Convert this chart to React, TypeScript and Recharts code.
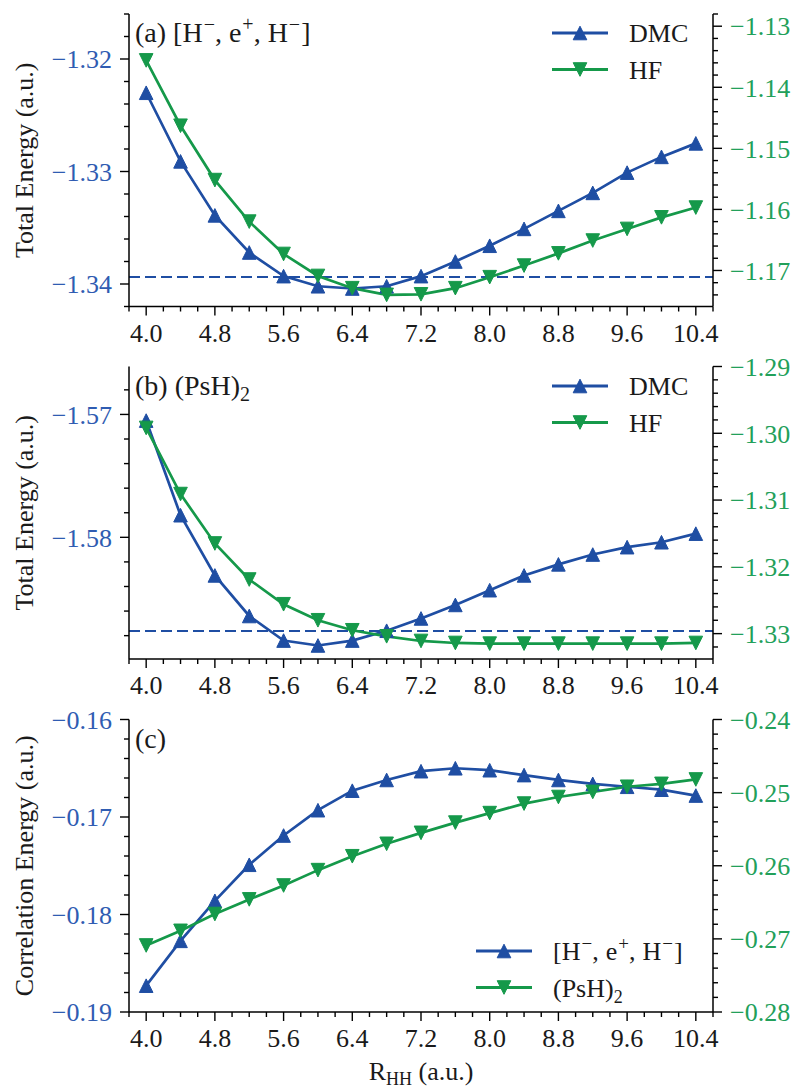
import React from 'react';
import { LineChart, Line, XAxis, YAxis, ReferenceLine, Legend } from 'recharts';

// ---------------- data ----------------
const R_HH = [4.0, 4.4, 4.8, 5.2, 5.6, 6.0, 6.4, 6.8, 7.2, 7.6, 8.0, 8.4, 8.8, 9.2, 9.6, 10.0, 10.4];

// panel (a) [H-, e+, H-]
const dmcA = [-1.3230, -1.3291, -1.3339, -1.3372, -1.3393, -1.3402, -1.3404, -1.3402, -1.3393, -1.3380, -1.3366, -1.3351, -1.3335, -1.3319, -1.3301, -1.3287, -1.3275];
const hfA = [-1.1356, -1.1463, -1.1552, -1.1620, -1.1673, -1.1709, -1.1729, -1.1740, -1.1739, -1.1729, -1.1711, -1.1692, -1.1672, -1.1651, -1.1632, -1.1613, -1.1597];
const refA = -1.33938;

// panel (b) (PsH)2
const dmcB = [-1.5705, -1.5782, -1.5831, -1.5864, -1.5884, -1.5888, -1.5884, -1.5876, -1.5866, -1.5855, -1.5843, -1.5831, -1.5822, -1.5814, -1.5808, -1.5804, -1.5797];
const hfB = [-1.2992, -1.3091, -1.3165, -1.3219, -1.3256, -1.3280, -1.3295, -1.3304, -1.3311, -1.3314, -1.3315, -1.3315, -1.3315, -1.3315, -1.3315, -1.3315, -1.3314];
const refB = -1.58763;

// panel (c) correlation energies
const corrHeH = [-0.1873, -0.1827, -0.1786, -0.1749, -0.1719, -0.1693, -0.1673, -0.1662, -0.1653, -0.1650, -0.1652, -0.1657, -0.1662, -0.1666, -0.1669, -0.1672, -0.1678];
const corrPsH2 = [-0.2709, -0.2689, -0.2666, -0.2646, -0.2627, -0.2606, -0.2587, -0.2570, -0.2555, -0.2541, -0.2528, -0.2515, -0.2506, -0.2499, -0.2492, -0.2488, -0.2482];

// ticks
const xMajor = [4.0, 4.8, 5.6, 6.4, 7.2, 8.0, 8.8, 9.6, 10.4];
const yMajorAL = [-1.34, -1.33, -1.32];
const yMajorAR = [-1.17, -1.16, -1.15, -1.14, -1.13];
const yMajorBL = [-1.59, -1.58, -1.57];
const yMajorBR = [-1.33, -1.32, -1.31, -1.30, -1.29];
const yMajorCL = [-0.19, -0.18, -0.17, -0.16];
const yMajorCR = [-0.28, -0.27, -0.26, -0.25, -0.24];

const X_DOMAIN: [number, number] = [3.8, 10.6];
const domAL: [number, number] = [-1.342, -1.316];
const domAR: [number, number] = [-1.1759, -1.128];
const domBL: [number, number] = [-1.5899, -1.5661];
const domBR: [number, number] = [-1.3338, -1.29];
const domCL: [number, number] = [-0.19, -0.16];
const domCR: [number, number] = [-0.28, -0.24];

// ---------------- style ----------------
const FONT = '"Liberation Serif", "Times New Roman", Times, serif';
const BLUE = '#1f4ea3';
const GREEN = '#15994a';
const BLUE_TXT = '#2f5cb2';
const GREEN_TXT = '#22a05a';
const DARK = '#1a1a1a';
const FS = 26;
const TITLE_FS = 28;
const TS = 9;
const TSM = 5;
const TM = 8;
const PLOT_H = 292.5;

function minorTicks(lo: number, hi: number, step: number) {
  const out: number[] = [];
  const n0 = Math.ceil(lo / step - 1e-6);
  const n1 = Math.floor(hi / step + 1e-6);
  for (let n = n0; n <= n1; n++) out.push(+(n * step).toFixed(6));
  return out;
}
const isMajor = (v: number, majors: number[]) => majors.some((m) => Math.abs(m - v) < 1e-6);
const fmtY = (v: number) => v.toFixed(2).replace('-', '\u2212');

const xTicksAll = minorTicks(X_DOMAIN[0], X_DOMAIN[1], 0.2);

function makeXTick(majors: number[]) {
  return (props: any) => {
    const { x, y, payload } = props;
    const v = payload.value;
    const major = isMajor(v, majors);
    const ay = y - TS - TM;
    return (
      <g>
        <line x1={x} x2={x} y1={ay} y2={ay + (major ? TS : TSM)} stroke="#000" strokeWidth={1.4} />
        {major && (
          <text x={x} y={ay + TS + TM} dy="0.71em" textAnchor="middle" fontSize={FS} fontFamily={FONT} fill={DARK}>
            {v.toFixed(1)}
          </text>
        )}
      </g>
    );
  };
}

function makeYTick(majors: number[], side: 'left' | 'right', color: string) {
  return (props: any) => {
    const { x, y, payload } = props;
    const v = payload.value;
    const major = isMajor(v, majors);
    const len = major ? TS : TSM;
    if (side === 'left') {
      const ax = x + TS + TM;
      return (
        <g>
          <line x1={ax - len} x2={ax} y1={y} y2={y} stroke="#000" strokeWidth={1.4} />
          {major && (
            <text x={ax - TS - TM} y={y} dy="0.355em" textAnchor="end" fontSize={FS} fontFamily={FONT} fill={color}>
              {fmtY(v)}
            </text>
          )}
        </g>
      );
    }
    const ax = x - TS - TM;
    return (
      <g>
        <line x1={ax} x2={ax + len} y1={y} y2={y} stroke="#000" strokeWidth={1.4} />
        {major && (
          <text x={ax + TS + TM} y={y} dy="0.355em" textAnchor="start" fontSize={FS} fontFamily={FONT} fill={color}>
            {fmtY(v)}
          </text>
        )}
      </g>
    );
  };
}

const triUp = (cx: number, cy: number, s = 6.8) => `M${cx},${cy - s} L${cx + s},${cy + s} L${cx - s},${cy + s} Z`;
const triDown = (cx: number, cy: number, s = 6.8) => `M${cx},${cy + s} L${cx + s},${cy - s} L${cx - s},${cy - s} Z`;

const upDot = (color: string) => (props: any) => {
  const { cx, cy, index } = props;
  if (cx == null || cy == null) return <g key={`u${index}`} />;
  return <path key={`u${index}`} d={triUp(cx, cy)} fill={color} stroke={color} strokeWidth={1} />;
};
const downDot = (color: string) => (props: any) => {
  const { cx, cy, index } = props;
  if (cx == null || cy == null) return <g key={`d${index}`} />;
  return <path key={`d${index}`} d={triDown(cx, cy)} fill={color} stroke={color} strokeWidth={1} />;
};

const yLabel = (text: string) => (props: any) => {
  const vb = props.viewBox || {};
  const cy = (vb.y ?? 14) + (vb.height ?? PLOT_H) / 2;
  const cx = 33;
  return (
    <text x={cx} y={cy} transform={`rotate(-90 ${cx} ${cy})`} textAnchor="middle" fontSize={FS} fontFamily={FONT} fill={DARK}>
      {text}
    </text>
  );
};

const xLabel = (props: any) => {
  const vb = props.viewBox || {};
  const cx = (vb.x ?? 129) + (vb.width ?? 584) / 2;
  const y = (vb.y ?? 0) + 68;
  return (
    <text x={cx} y={y} textAnchor="middle" fontSize={FS} fontFamily={FONT} fill={DARK}>
      R<tspan dy={5} fontSize={18}>HH</tspan>
      <tspan dy={-5}> (a.u.)</tspan>
    </text>
  );
};

type LegItem = { color: string; up: boolean; label: React.ReactNode };

const legendContent = (items: LegItem[]) => () => (
  <svg width={260} height={76} style={{ overflow: 'visible', display: 'block' }}>
    {items.map((it, i) => {
      const cy = 19 + i * 36.5;
      return (
        <g key={i}>
          <line x1={6} x2={62} y1={cy} y2={cy} stroke={it.color} strokeWidth={3} />
          <path d={it.up ? triUp(34, cy) : triDown(34, cy)} fill={it.color} stroke={it.color} />
          <text x={83} y={cy} dy="0.355em" fontSize={FS} fontFamily={FONT} fill={DARK}>
            {it.label}
          </text>
        </g>
      );
    })}
  </svg>
);

const heh = (sup: number, shift: number) => (
  <>
    [H<tspan dy={-shift} dx={1} fontSize={sup}>−</tspan>
    <tspan dy={shift}>,</tspan>
    <tspan dx={7}>e</tspan>
    <tspan dy={-shift} dx={1} fontSize={sup}>+</tspan>
    <tspan dy={shift}>,</tspan>
    <tspan dx={7}>H</tspan>
    <tspan dy={-shift} dx={1} fontSize={sup}>−</tspan>
    <tspan dy={shift} dx={1}>]</tspan>
  </>
);
const psh2 = (sub: number, shift: number) => (
  <>
    (PsH)<tspan dy={shift} fontSize={sub}>2</tspan>
  </>
);

type PanelProps = {
  top: number;
  height: number;
  marginTop: number;
  a: number[];
  b: number[];
  domL: [number, number];
  domR: [number, number];
  majL: number[];
  majR: number[];
  leftLabel: string;
  refY?: number;
  legendItems: LegItem[];
  legendLeft: number;
  legendTop: number;
  showXLabel?: boolean;
  title: React.ReactNode;
};

function Panel(p: PanelProps) {
  const data = R_HH.map((x, i) => ({ x, a: p.a[i], b: p.b[i] }));
  const xAxisH = p.height - p.marginTop - PLOT_H;
  const yTicksL = minorTicks(p.domL[0], p.domL[1], 0.002);
  const yTicksR = minorTicks(p.domR[0], p.domR[1], 0.002);
  return (
    <div style={{ position: 'absolute', left: 0, top: p.top, width: 796, height: p.height }}>
      <LineChart width={796} height={p.height} data={data} margin={{ top: p.marginTop, right: 0, bottom: 0, left: 0 }}>
        <XAxis
          xAxisId="frameTop"
          orientation="top"
          type="number"
          dataKey="x"
          domain={X_DOMAIN}
          allowDataOverflow
          height={0}
          tick={false}
          tickLine={false}
          axisLine={{ stroke: '#000', strokeWidth: 1.5 }}
        />
        <XAxis
          type="number"
          dataKey="x"
          domain={X_DOMAIN}
          allowDataOverflow
          ticks={xTicksAll}
          interval={0}
          tickLine={false}
          tickSize={TS}
          tickMargin={TM}
          tick={makeXTick(xMajor)}
          height={xAxisH}
          axisLine={{ stroke: '#000', strokeWidth: 1.5 }}
          label={p.showXLabel ? xLabel : undefined}
        />
        <YAxis
          yAxisId="left"
          type="number"
          domain={p.domL}
          allowDataOverflow
          ticks={yTicksL}
          interval={0}
          tickLine={false}
          tickSize={TS}
          tickMargin={TM}
          tick={makeYTick(p.majL, 'left', BLUE_TXT)}
          width={129}
          axisLine={{ stroke: '#000', strokeWidth: 1.5 }}
          label={yLabel(p.leftLabel)}
        />
        <YAxis
          yAxisId="right"
          orientation="right"
          type="number"
          domain={p.domR}
          allowDataOverflow
          ticks={yTicksR}
          interval={0}
          tickLine={false}
          tickSize={TS}
          tickMargin={TM}
          tick={makeYTick(p.majR, 'right', GREEN_TXT)}
          width={83}
          axisLine={{ stroke: '#000', strokeWidth: 1.5 }}
        />
        {p.refY != null && (
          <ReferenceLine yAxisId="left" y={p.refY} stroke={BLUE} strokeWidth={2} strokeDasharray="11 5" />
        )}
        <Line
          yAxisId="left"
          type="linear"
          dataKey="a"
          stroke={BLUE}
          strokeWidth={2.7}
          dot={upDot(BLUE)}
          activeDot={false}
          isAnimationActive={false}
        />
        <Line
          yAxisId="right"
          type="linear"
          dataKey="b"
          stroke={GREEN}
          strokeWidth={2.7}
          dot={downDot(GREEN)}
          activeDot={false}
          isAnimationActive={false}
        />
        <Legend
          layout="vertical"
          align="center"
          verticalAlign="middle"
          content={legendContent(p.legendItems)}
          wrapperStyle={{ position: 'absolute', left: p.legendLeft, top: p.legendTop, width: 260, height: 76 }}
        />
      </LineChart>
      <svg
        width={796}
        height={p.height}
        style={{ position: 'absolute', left: 0, top: 0, pointerEvents: 'none' }}
      >
        <text x={135} y={p.marginTop + 28} fontSize={TITLE_FS} fontFamily={FONT} fill={DARK}>
          {p.title}
        </text>
      </svg>
    </div>
  );
}

export default function App() {
  return (
    <div style={{ position: 'absolute', left: 0, top: 0, width: 796, height: 1092, background: '#fff', overflow: 'hidden' }}>
      <Panel
        top={0}
        height={353}
        marginTop={14}
        a={dmcA}
        b={hfA}
        domL={domAL}
        domR={domAR}
        majL={yMajorAL}
        majR={yMajorAR}
        leftLabel="Total Energy (a.u.)"
        refY={refA}
        legendItems={[
          { color: BLUE, up: true, label: 'DMC' },
          { color: GREEN, up: false, label: 'HF' },
        ]}
        legendLeft={546}
        legendTop={14}
        title={<>(a) {heh(20, 11)}</>}
      />
      <Panel
        top={353}
        height={353}
        marginTop={13.5}
        a={dmcB}
        b={hfB}
        domL={domBL}
        domR={domBR}
        majL={yMajorBL}
        majR={yMajorBR}
        leftLabel="Total Energy (a.u.)"
        refY={refB}
        legendItems={[
          { color: BLUE, up: true, label: 'DMC' },
          { color: GREEN, up: false, label: 'HF' },
        ]}
        legendLeft={546}
        legendTop={13.5}
        title={<>(b) {psh2(20, 6)}</>}
      />
      <Panel
        top={706}
        height={386}
        marginTop={13.5}
        a={corrHeH}
        b={corrPsH2}
        domL={domCL}
        domR={domCR}
        majL={yMajorCL}
        majR={yMajorCR}
        leftLabel="Correlation Energy (a.u.)"
        legendItems={[
          { color: BLUE, up: true, label: heh(19, 10) },
          { color: GREEN, up: false, label: psh2(18, 6) },
        ]}
        legendLeft={470}
        legendTop={226}
        showXLabel
        title={<>(c)</>}
      />
    </div>
  );
}
